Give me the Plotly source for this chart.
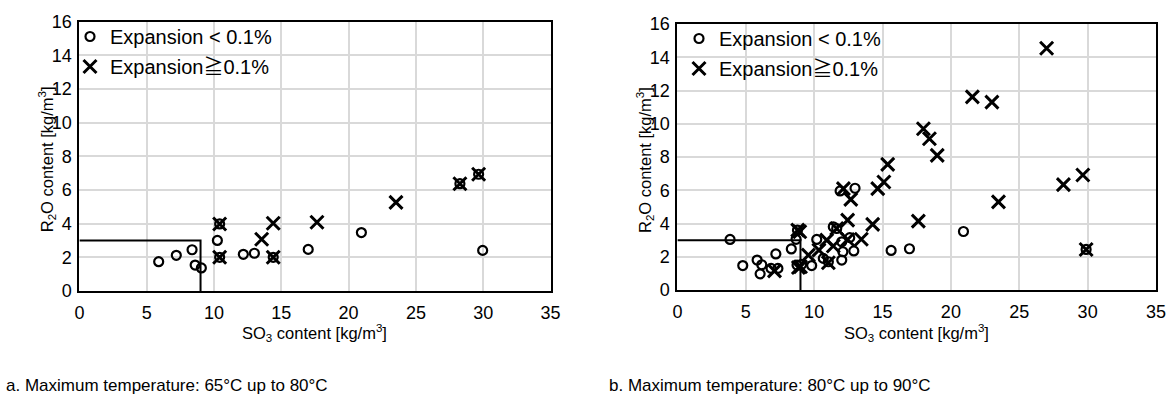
import plotly.graph_objects as go

# ---- Data: panel a (65-80 C) ----
a_lt_x = [5.89, 7.2, 8.37, 8.6, 9.06, 10.42, 10.25, 10.42, 12.18, 13.0, 14.4, 17.0, 20.95, 28.27, 29.66, 29.96]
a_lt_y = [1.74, 2.12, 2.45, 1.54, 1.37, 3.98, 3.0, 2.0, 2.18, 2.24, 2.0, 2.47, 3.47, 6.37, 6.93, 2.41]
a_ge_x = [10.42, 10.42, 13.54, 14.4, 14.4, 17.65, 23.52, 28.27, 29.66]
a_ge_y = [3.98, 2.0, 3.07, 4.02, 2.0, 4.08, 5.26, 6.37, 6.93]

# ---- Data: panel b (80-90 C) ----
b_lt_x = [3.85, 4.78, 5.83, 6.17, 6.05, 7.2, 6.85, 7.35, 8.33, 8.68, 8.78, 8.75, 9.09, 9.82, 10.19,
          10.67, 11.04, 11.65, 12.02, 12.1, 12.02, 12.6, 12.9, 11.9, 12.99, 15.63, 16.97, 20.92, 29.89, 11.4]
b_lt_y = [3.04, 1.47, 1.8, 1.52, 0.97, 2.17, 1.3, 1.3, 2.47, 3.05, 3.6, 1.5, 1.55, 1.47, 3.04,
          1.9, 1.7, 3.7, 1.8, 2.3, 2.9, 3.15, 2.35, 5.96, 6.12, 2.38, 2.48, 3.52, 2.44, 3.8]
b_ge_x = [7.1, 8.8, 8.95, 8.85, 9.58, 10.35, 10.92, 11.04, 11.65, 11.4, 12.45, 12.45, 12.68, 12.14,
          13.45, 14.28, 14.65, 15.1, 15.38, 17.62, 17.99, 18.43, 19.0, 21.57, 23.0, 27.0, 23.48,
          28.23, 29.65, 29.89, 9.0]
b_ge_y = [1.15, 3.6, 3.5, 1.35, 2.1, 2.4, 3.0, 1.64, 3.7, 2.65, 3.04, 4.2, 5.45, 6.1,
          3.05, 3.95, 6.1, 6.5, 7.56, 4.14, 9.7, 9.1, 8.1, 11.62, 11.3, 14.54, 5.3,
          6.34, 6.92, 2.44, 1.4]

# Threshold box (SO3 = 9, R2O = 3)
box_x = [0, 9, 9]
box_y = [3, 3, 0]

x_ticks = [0, 5, 10, 15, 20, 25, 30, 35]
y_ticks = [0, 2, 4, 6, 8, 10, 12, 14, 16]

lt_name = "Expansion < 0.1%"
ge_name = "Expansion≧0.1%"
x_title = "SO<sub>3</sub> content [kg/m<sup>3</sup>]"
y_title = "R<sub>2</sub>O content [kg/m<sup>3</sup>]"
captions = ["a. Maximum temperature: 65°C up to 80°C", "b. Maximum temperature: 80°C up to 90°C"]

FONT = "Liberation Sans, Arial, sans-serif"
LEGF = "Liberation Sans, Arial, Noto Sans CJK JP"

circ = dict(symbol="circle-open", size=9, color="black", line=dict(width=2.2, color="black"))
cross = dict(symbol="x-thin-open", size=13, color="black", line=dict(width=3, color="black"))

fig = go.Figure()
for (xa, ya, lg, lx, ly, gx, gy) in [("x", "y", "legend", a_lt_x, a_lt_y, a_ge_x, a_ge_y),
                                      ("x2", "y2", "legend2", b_lt_x, b_lt_y, b_ge_x, b_ge_y)]:
    fig.add_trace(go.Scatter(x=box_x, y=box_y, mode="lines", line=dict(color="black", width=2),
                             xaxis=xa, yaxis=ya, showlegend=False, hoverinfo="skip"))
    fig.add_trace(go.Scatter(x=lx, y=ly, mode="markers", marker=circ, name=lt_name,
                             xaxis=xa, yaxis=ya, legend=lg, legendgroup="lt"))
    fig.add_trace(go.Scatter(x=gx, y=gy, mode="markers", marker=cross, name=ge_name,
                             xaxis=xa, yaxis=ya, legend=lg, legendgroup="ge"))

W, H = 1175, 412
axis_common = dict(showline=True, mirror=True, linecolor="black", linewidth=2,
                   showgrid=True, gridcolor="#d9d9d9", gridwidth=1.5, zeroline=False,
                   automargin=False, ticks="", tickfont=dict(family=FONT, size=18, color="black"))
xcommon = dict(axis_common, range=[0, 35], tickvals=x_ticks, ticklabelstandoff=4)
ycommon = dict(axis_common, range=[0, 16], tickvals=y_ticks, ticklabelstandoff=2)

leg_common = dict(xanchor="left", yanchor="top", bgcolor="rgba(0,0,0,0)",
                  font=dict(family=LEGF, size=20, color="black"), tracegroupgap=1, itemwidth=30)

# pixel geometry of the two panels
xa_dom = [79.4, 550.5]
ya_dom = [21.5, 291]
xb_dom = [677.4, 1156]
yb_dom = [24, 290]

def px_x(p):
    return p / W

def px_y(p):
    return 1 - p / H

ann = []
title_font = dict(family=FONT, size=16.5, color="black")
for (xd, yd, ytx) in [(xa_dom, ya_dom, 47), (xb_dom, yb_dom, 645)]:
    ann.append(dict(text=x_title, x=px_x((xd[0] + xd[1]) / 2), y=px_y(333), xref="paper", yref="paper",
                    xanchor="center", yanchor="middle", showarrow=False, font=title_font))
    ann.append(dict(text=y_title, x=px_x(ytx), y=px_y((yd[0] + yd[1]) / 2 + 3), xref="paper", yref="paper",
                    xanchor="center", yanchor="middle", textangle=-90, showarrow=False, font=title_font))
for cap, cx in zip(captions, [4, 607]):
    ann.append(dict(text=cap, x=px_x(cx), y=px_y(385), xref="paper", yref="paper",
                    xanchor="left", yanchor="middle", showarrow=False,
                    font=dict(family=FONT, size=17, color="black")))

fig.update_layout(
    width=W, height=H,
    margin=dict(l=0, r=0, t=0, b=0, autoexpand=False),
    paper_bgcolor="white", plot_bgcolor="white",
    xaxis=dict(xcommon, domain=[px_x(xa_dom[0]), px_x(xa_dom[1])], anchor="y"),
    yaxis=dict(ycommon, domain=[px_y(ya_dom[1]), px_y(ya_dom[0])], anchor="x"),
    xaxis2=dict(xcommon, domain=[px_x(xb_dom[0]), px_x(xb_dom[1])], anchor="y2"),
    yaxis2=dict(ycommon, domain=[px_y(yb_dom[1]), px_y(yb_dom[0])], anchor="x2"),
    legend=dict(leg_common, x=px_x(70), y=px_y(17)),
    legend2=dict(leg_common, x=px_x(679), y=px_y(19)),
    annotations=ann,
)

fig.write_html("out.html", config={"displayModeBar": False},
               post_script="document.body.style.margin='0px';document.body.style.overflow='hidden';")
